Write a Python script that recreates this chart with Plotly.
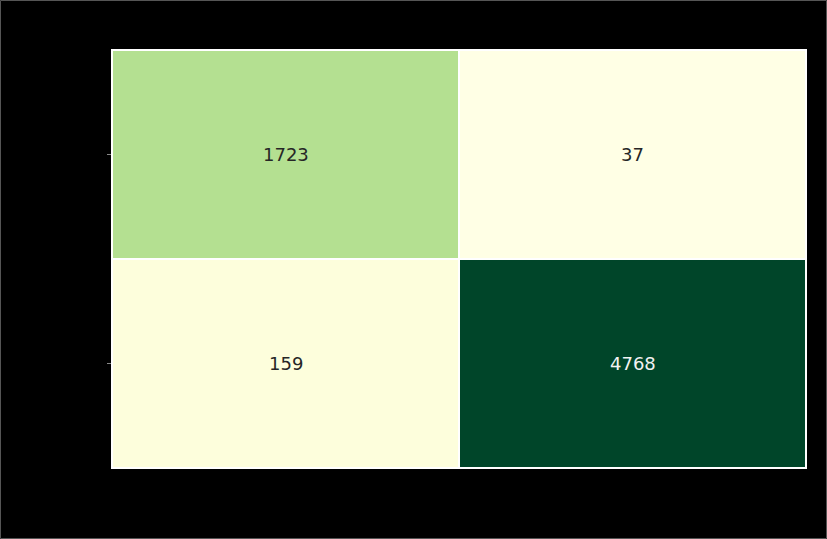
import plotly.graph_objects as go

# Confusion matrix counts (rows: actual, columns: predicted)
row_labels = ["0", "1"]
col_labels = ["0", "1"]
counts = [
    [1723, 37],
    [159, 4768],
]

ylgn = [
    [0.000, "#ffffe5"], [0.125, "#f7fcb9"], [0.250, "#d9f0a3"],
    [0.375, "#addd8e"], [0.500, "#78c679"], [0.625, "#41ab5d"],
    [0.750, "#238443"], [0.875, "#006837"], [1.000, "#004529"],
]

vmin = min(min(r) for r in counts)
vmax = max(max(r) for r in counts)
mid = (vmin + vmax) / 2

fig = go.Figure(
    go.Heatmap(
        z=counts,
        x=col_labels,
        y=row_labels,
        colorscale=ylgn,
        zmin=vmin,
        zmax=vmax,
        showscale=False,
        xgap=2,
        ygap=2,
        hoverinfo="skip",
    )
)

# Cell annotations, dark text on light cells and light text on dark cells
for i, row in enumerate(counts):
    for j, v in enumerate(row):
        fig.add_annotation(
            x=col_labels[j], y=row_labels[i], text=str(v), showarrow=False,
            font=dict(family="DejaVu Sans", size=18,
                      color="#f2f2f2" if v > mid else "#262626"),
        )

W, H = 827, 539
L, R, T, B = 112, 21, 50, 71
pw, ph = W - L - R, H - T - B

# White frame around the grid
fig.add_shape(type="rect", xref="paper", yref="paper", x0=0, x1=1, y0=0, y1=1,
              line=dict(color="#ffffff", width=2), layer="above")
# Thin grey border of the whole figure
fig.add_shape(type="rect", xref="paper", yref="paper",
              x0=(-L + 0.5) / pw, x1=(pw + R - 0.5) / pw,
              y0=(-B + 0.5) / ph, y1=(ph + T - 0.5) / ph,
              line=dict(color="#555555", width=1))

fig.update_layout(
    width=W, height=H,
    margin=dict(l=L, r=R, t=T, b=B),
    paper_bgcolor="#000000",
    plot_bgcolor="#ffffff",
    font=dict(family="DejaVu Sans", color="#000000"),
    xaxis=dict(showticklabels=False, ticks="", showgrid=False, zeroline=False),
    yaxis=dict(autorange="reversed", showticklabels=False, ticks="outside",
               ticklen=4, tickcolor="#888888", tickwidth=1,
               showgrid=False, zeroline=False),
)

fig.write_html("out.html")
